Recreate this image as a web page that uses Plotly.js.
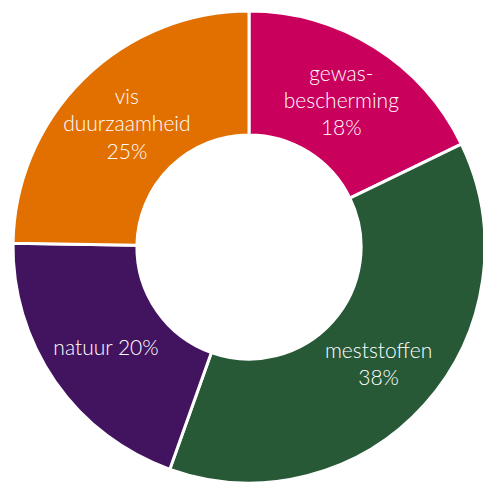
<!DOCTYPE html>
<html>
<head>
<meta charset="utf-8">
<script src="https://cdn.plot.ly/plotly-3.0.1.min.js"></script>
<style>
html,body{margin:0;padding:0;overflow:hidden;background:#fff;width:483px;height:482px;}
#chart{width:498px;height:494px;}
</style>
</head>
<body>
<div id="chart"></div>
<script>
const categories = ["gewasbescherming", "meststoffen", "natuur", "vis duurzaamheid"];
const labelTexts = ["gewas-<br>bescherming", "meststoffen", "natuur", "vis<br>duurzaamheid"];
const values = [18, 38, 20, 25];
const colors = ["#CA005D", "#275937", "#42145F", "#E17000"];

const texts = categories.map((c, i) =>
  labelTexts[i] + (i === 2 ? " " : "<br>") + values[i] + "%");

Plotly.newPlot("chart", [{
  type: "pie",
  labels: categories,
  values: values,
  text: texts,
  textinfo: "text",
  textposition: "inside",
  insidetextorientation: "horizontal",
  hole: 0.475,
  sort: false,
  direction: "clockwise",
  rotation: 0,
  marker: {colors: colors, line: {color: "#ffffff", width: 3}},
  textfont: {family: "Lato", size: 21, weight: 300, color: "#ffffff"},
  domain: {x: [0, 1], y: [0.0223, 0.9777]},
  showlegend: false,
  hoverinfo: "none"
}], {
  width: 498,
  height: 494,
  margin: {l: 0, r: 0, t: 0, b: 0},
  paper_bgcolor: "#ffffff",
  showlegend: false,
  uniformtext: {minsize: 21, mode: "show"}
}, {displayModeBar: false, staticPlot: true});
</script>
</body>
</html>
